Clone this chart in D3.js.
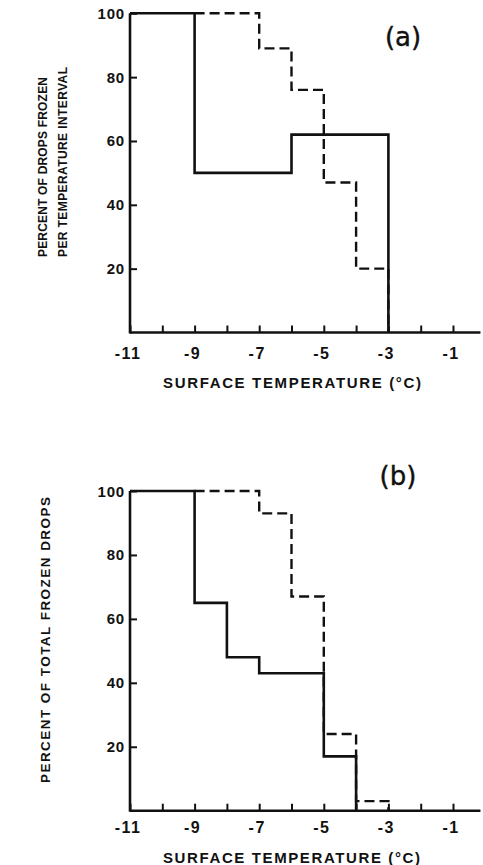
<!DOCTYPE html>
<html>
<head>
<meta charset="utf-8">
<script src="https://cdn.jsdelivr.net/npm/d3@7"></script>
<style>
  html, body { margin: 0; padding: 0; background: #fff; }
  svg { display: block; }
  text { fill: #111; }
</style>
</head>
<body>
<svg id="chart" width="483" height="865"></svg>
<script>
// ---- data ----
const xTickValues = [-11, -10, -9, -8, -7, -6, -5, -4, -3, -2, -1];
const xTickLabels = ["-11", "-9", "-7", "-5", "-3", "-1"];
const yTickValues = [20, 40, 60, 80, 100];

// panel (a): percent of drops frozen per temperature interval
const aSolidTemps = [-11, -9, -6, -3];
const aSolidVals  = [100, 50, 62, 0];
const aDashTemps  = [-9, -7, -6, -5, -4, -3];
const aDashVals   = [100, 89, 76, 47, 20, 0];

// panel (b): percent of total frozen drops
const bSolidTemps = [-11, -9, -8, -7, -5, -4];
const bSolidVals  = [100, 65, 48, 43, 17, 0];
const bDashTemps  = [-9, -7, -6, -5, -4, -3];
const bDashVals   = [100, 93, 67, 24, 3, 0];

const svg = d3.select("#chart");
const ink = "#111";

function panel(opts) {
  const x = d3.scaleLinear().domain([-11, 0]).range([130, 485.3]);
  const y = d3.scaleLinear().domain([0, 100]).range([opts.y0, opts.y100]);
  const g = svg.append("g");

  // axes lines
  g.append("line").attr("x1", x(-11)).attr("x2", x(-0.15))
    .attr("y1", y(0)).attr("y2", y(0))
    .attr("stroke", ink).attr("stroke-width", 2.6);
  g.append("line").attr("x1", x(-11)).attr("x2", x(-11))
    .attr("y1", y(0) + 1).attr("y2", y(100))
    .attr("stroke", ink).attr("stroke-width", 2.6);

  // x axis ticks (inward)
  const xAxis = d3.axisTop(x).tickValues(xTickValues).tickSize(7).tickFormat("");
  const gx = g.append("g").attr("transform", `translate(0,${y(0)})`).call(xAxis);
  gx.select(".domain").remove();
  gx.selectAll(".tick line").attr("stroke", ink).attr("stroke-width", 2);

  // x tick labels
  g.selectAll(".xl").data(xTickLabels).enter().append("text")
    .attr("x", d => x(+d) - 2)
    .attr("y", opts.xLabelBase)
    .attr("text-anchor", "middle")
    .attr("font-family", "Liberation Sans, Arial, sans-serif")
    .attr("font-weight", "bold")
    .attr("font-size", 16)
    .attr("letter-spacing", 1.5)
    .text(d => d);

  // y axis ticks (inward) and labels
  const yAxis = d3.axisRight(y).tickValues(yTickValues).tickSize(7).tickFormat("");
  const gy = g.append("g").attr("transform", `translate(${x(-11)},0)`).call(yAxis);
  gy.select(".domain").remove();
  gy.selectAll(".tick line").attr("stroke", ink).attr("stroke-width", 2);

  g.selectAll(".yl").data(yTickValues).enter().append("text")
    .attr("x", x(-11) - 5)
    .attr("y", d => y(d) + 5.5)
    .attr("text-anchor", "end")
    .attr("font-family", "Liberation Sans, Arial, sans-serif")
    .attr("font-weight", "bold")
    .attr("font-size", 15)
    .attr("letter-spacing", 0.8)
    .text(d => d);

  // step lines
  const line = d3.line().x(d => x(d[0])).y(d => y(d[1])).curve(d3.curveStepAfter);
  const dashPts = opts.dashT.map((t, i) => [t, opts.dashV[i]]);
  const solidPts = opts.solidT.map((t, i) => [t, opts.solidV[i]]);
  g.append("path").attr("d", line(dashPts))
    .attr("fill", "none").attr("stroke", ink).attr("stroke-width", 2.4)
    .attr("stroke-dasharray", "10,5");
  g.append("path").attr("d", line(solidPts))
    .attr("fill", "none").attr("stroke", ink).attr("stroke-width", 2.6);

  // panel label
  g.append("text")
    .attr("x", opts.labelX).attr("y", opts.labelY)
    .attr("text-anchor", "middle")
    .attr("font-family", "DejaVu Sans, sans-serif")
    .attr("font-size", 26)
    .attr("stroke", ink).attr("stroke-width", 0.4)
    .text(opts.label);

  // x title
  g.append("text")
    .attr("x", 163).attr("y", opts.xTitleBase)
    .attr("font-family", "Liberation Sans, Arial, sans-serif")
    .attr("font-weight", "bold")
    .attr("font-size", 15)
    .attr("textLength", opts.xTitleLen)
    .attr("lengthAdjust", "spacing")
    .text("SURFACE   TEMPERATURE (°C)");

  // y titles
  opts.yTitles.forEach(t => {
    g.append("text")
      .attr("transform", `translate(${t.x},${t.y0}) rotate(-90)`)
      .attr("font-family", "Liberation Sans, Arial, sans-serif")
      .attr("font-weight", "bold")
      .attr("font-size", t.size)
      .attr("textLength", t.len)
      .attr("lengthAdjust", "spacing")
      .text(t.text);
  });
}

panel({
  y0: 332.5, y100: 13.3,
  solidT: aSolidTemps, solidV: aSolidVals,
  dashT: aDashTemps, dashV: aDashVals,
  label: "(a)", labelX: 403, labelY: 46,
  xLabelBase: 359, xTitleBase: 387.5, xTitleLen: 258,
  yTitles: [
    { text: "PERCENT OF DROPS FROZEN", x: 47, y0: 257, len: 180, size: 12 },
    { text: "PER TEMPERATURE INTERVAL", x: 67, y0: 257, len: 190, size: 12 }
  ]
});

panel({
  y0: 810.7, y100: 491,
  solidT: bSolidTemps, solidV: bSolidVals,
  dashT: bDashTemps, dashV: bDashVals,
  label: "(b)", labelX: 398, labelY: 485,
  xLabelBase: 833, xTitleBase: 862.5, xTitleLen: 257,
  yTitles: [
    { text: "PERCENT  OF  TOTAL  FROZEN  DROPS", x: 50, y0: 783, len: 286, size: 13.5 }
  ]
});
</script>
</body>
</html>
